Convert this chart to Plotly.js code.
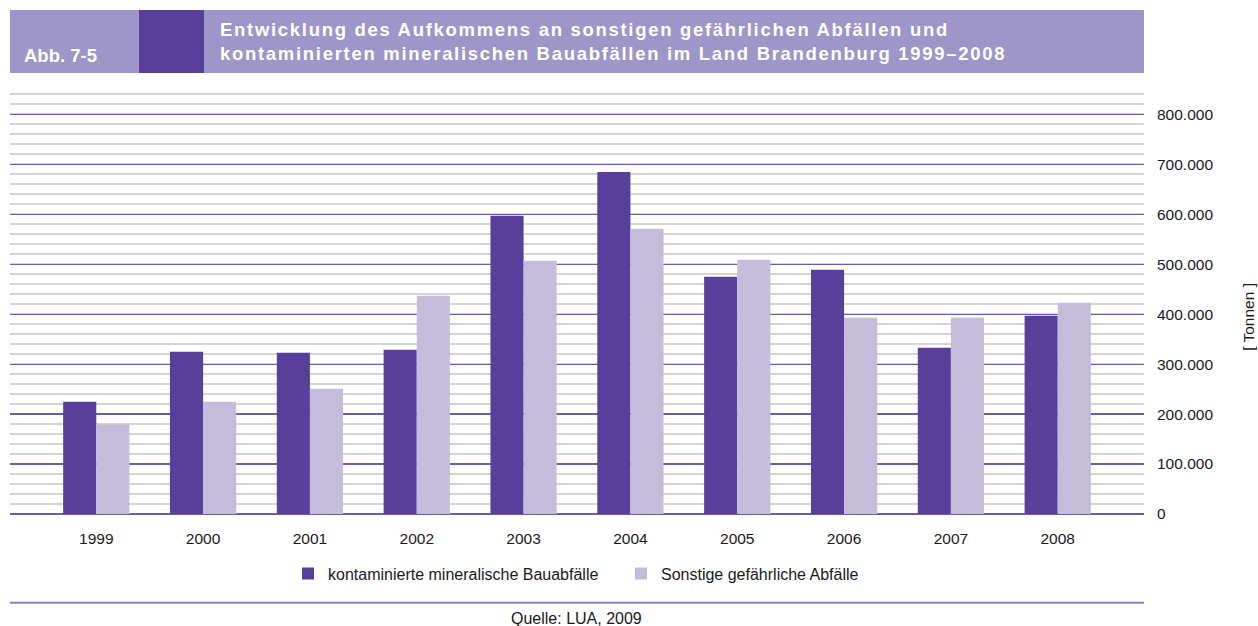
<!DOCTYPE html>
<html>
<head>
<meta charset="utf-8">
<script src="https://cdn.plot.ly/plotly-3.0.1.min.js"></script>
<style>
  body { margin: 0; background: #fff; }
  #chart { width: 1258px; height: 626px; }
  /* the header title is set with wide tracking */
  #chart .annotation[data-index="1"] text { letter-spacing: 1.7px; }
</style>
</head>
<body>
<div id="chart"></div>
<script>
// data (tonnes)
const years = ['1999', '2000', '2001', '2002', '2003', '2004', '2005', '2006', '2007', '2008'];
const bauabfaelle = [225000, 325000, 323000, 329000, 597000, 685000, 475000, 489000, 333000, 397000];
const sonstige = [179000, 225000, 251000, 437000, 507000, 571000, 509000, 393000, 393000, 423000];
const yTickVals = [0, 100000, 200000, 300000, 400000, 500000, 600000, 700000, 800000];

const dark = '#58409a';
const light = '#c5bcdb';
const band = '#9e95c8';

// plot area in pixels, used to place the header and footer in paper coords
const plotL = 10, plotR = 1144, plotT = 84, plotB = 514.3;
const px = x => (x - plotL) / (plotR - plotL);
const py = y => (plotB - y) / (plotB - plotT);

const data = [
  {type: 'bar', name: 'kontaminierte mineralische Bauabfälle', x: years, y: bauabfaelle,
   marker: {color: dark}},
  {type: 'bar', name: 'Sonstige gefährliche Abfälle', x: years, y: sonstige,
   marker: {color: light}}
];

const layout = {
  width: 1258, height: 626,
  margin: {l: plotL, r: 1258 - plotR, t: plotT, b: 626 - plotB, pad: 0},
  paper_bgcolor: '#fff', plot_bgcolor: '#fff',
  font: {family: 'Liberation Sans, Arial, sans-serif', size: 15.5, color: '#1a1a1a'},
  separators: ',.',
  barmode: 'group', bargap: 0.38, bargroupgap: 0,
  showlegend: true,
  legend: {orientation: 'h', x: px(288), xanchor: 'left', y: py(574), yanchor: 'middle',
           font: {size: 16}, itemwidth: 30, entrywidth: 288, traceorder: 'normal'},
  xaxis: {type: 'category', range: [-0.8075, 9.8075], showgrid: false, zeroline: false,
          showline: false, ticks: '', ticklabelstandoff: 13, fixedrange: true},
  yaxis: {side: 'right', range: [0, 861000], tickvals: yTickVals, tickformat: ',d',
          showgrid: true, gridcolor: '#6d5bb0', gridwidth: 1.3,
          zeroline: true, zerolinecolor: '#6d5bb0', zerolinewidth: 1.3,
          showline: false, ticks: '', ticklabelstandoff: 12,
          minor: {dtick: 20000, tick0: 0, showgrid: true, gridcolor: '#d4d4d4', gridwidth: 2},
          fixedrange: true},
  shapes: [
    {type: 'rect', xref: 'paper', yref: 'paper', x0: 0, x1: 1, y0: py(73), y1: py(10),
     fillcolor: band, line: {width: 0}, layer: 'above'},
    {type: 'rect', xref: 'paper', yref: 'paper', x0: px(139), x1: px(204), y0: py(73), y1: py(10),
     fillcolor: dark, line: {width: 0}, layer: 'above'},
    {type: 'line', xref: 'paper', yref: 'paper', x0: 0, x1: 1, y0: py(603), y1: py(603),
     line: {color: '#8b80c0', width: 2}}
  ],
  annotations: [
    {xref: 'paper', yref: 'paper', x: px(22), y: py(55), xanchor: 'left', yanchor: 'middle',
     showarrow: false, text: '<b>Abb. 7-5</b>', font: {size: 18.5, color: '#fff'}},
    {xref: 'paper', yref: 'paper', x: px(218), y: py(41), xanchor: 'left', yanchor: 'middle',
     align: 'left', showarrow: false,
     text: '<b>Entwicklung des Aufkommens an sonstigen gefährlichen Abfällen und<br>kontaminierten mineralischen Bauabfällen im Land Brandenburg 1999–2008</b>',
     font: {size: 18.5, color: '#fff'}},
    {xref: 'paper', yref: 'paper', x: px(1249), y: py(317), xanchor: 'center', yanchor: 'middle',
     showarrow: false, textangle: -90, text: '[ Tonnen ]', font: {size: 15.5}},
    {xref: 'paper', yref: 'paper', x: px(576), y: py(619), xanchor: 'center', yanchor: 'middle',
     showarrow: false, text: 'Quelle: LUA, 2009', font: {size: 16}}
  ]
};

Plotly.newPlot('chart', data, layout, {displayModeBar: false, staticPlot: true});
</script>
</body>
</html>
